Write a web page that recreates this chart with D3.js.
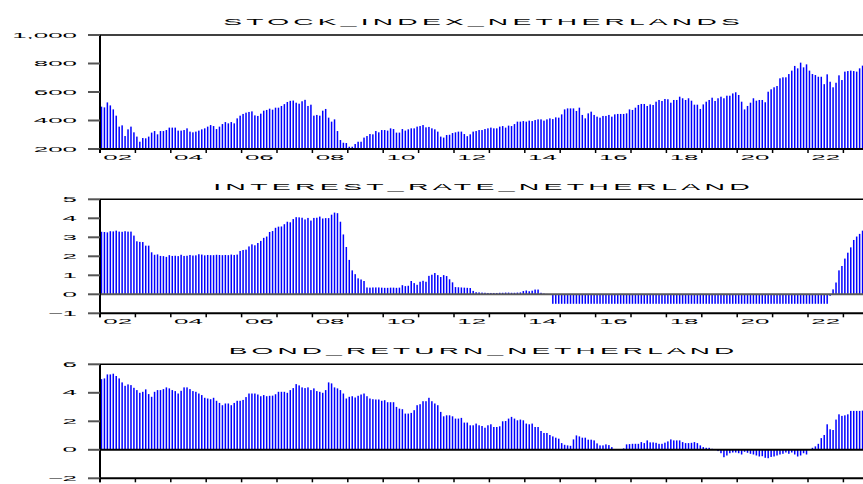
<!DOCTYPE html>
<html>
<head>
<meta charset="utf-8">
<script src="https://cdn.jsdelivr.net/npm/d3@7"></script>
<style>
  body { margin: 0; background: #fff; }
  svg { display: block; }
</style>
</head>
<body>
<div id="chart"></div>
<script>
// monthly data, 2002M01 .. 2023M07
const startYear = 2002;

const stockIndex = [
  497, 492, 527, 506, 478, 434, 357, 366, 291, 338, 357, 317, // 2002
  287, 251, 277, 275, 287, 315, 326, 303, 326, 326, 333, 350, // 2003
  350, 350, 329, 329, 333, 345, 322, 317, 322, 329, 338, 345, // 2004
  357, 368, 361, 340, 357, 375, 389, 380, 389, 380, 415, 434, // 2005
  446, 455, 460, 464, 436, 432, 448, 469, 474, 483, 476, 490, // 2006
  490, 502, 515, 530, 538, 540, 525, 518, 535, 545, 502, 511, // 2007
  434, 439, 434, 469, 481, 420, 392, 408, 326, 263, 244, 242, // 2008
  216, 216, 235, 251, 251, 280, 291, 305, 303, 326, 317, 333, // 2009
  333, 329, 345, 340, 315, 315, 340, 329, 338, 345, 345, 357, // 2010
  361, 368, 352, 355, 345, 338, 322, 287, 280, 298, 300, 312, // 2011
  317, 322, 322, 305, 290, 303, 322, 326, 333, 333, 340, 345, // 2012
  350, 345, 345, 357, 361, 350, 364, 361, 375, 392, 392, 396, // 2013
  392, 399, 396, 403, 408, 408, 399, 408, 415, 410, 422, 420, // 2014
  443, 478, 485, 485, 485, 467, 490, 439, 415, 450, 462, 439, // 2015
  427, 420, 432, 432, 439, 427, 443, 446, 446, 446, 450, 478, // 2016
  474, 490, 509, 516, 516, 502, 513, 509, 532, 544, 537, 551, // 2017
  549, 525, 544, 544, 567, 556, 544, 556, 539, 511, 511, 481, // 2018
  513, 532, 544, 560, 537, 556, 567, 556, 574, 574, 590, 598, // 2019
  579, 532, 478, 502, 525, 556, 539, 544, 544, 528, 602, 619, // 2020
  633, 642, 696, 703, 703, 726, 750, 783, 766, 806, 773, 794, // 2021
  750, 726, 719, 707, 707, 655, 724, 672, 633, 665, 717, 684, // 2022
  743, 747, 750, 747, 743, 766, 785                            // 2023
];

const interestRate = [
  3.29, 3.28, 3.26, 3.32, 3.31, 3.35, 3.30, 3.29, 3.32, 3.30, 3.30, 3.09, // 2002
  2.79, 2.76, 2.75, 2.56, 2.56, 2.21, 2.08, 2.10, 2.02, 2.01, 1.97, 2.06, // 2003
  2.02, 2.03, 2.01, 2.08, 2.02, 2.03, 2.07, 2.04, 2.05, 2.11, 2.09, 2.05, // 2004
  2.07, 2.06, 2.06, 2.08, 2.07, 2.06, 2.07, 2.06, 2.09, 2.07, 2.09, 2.28, // 2005
  2.33, 2.35, 2.52, 2.63, 2.58, 2.70, 2.81, 2.97, 3.04, 3.28, 3.33, 3.50, // 2006
  3.56, 3.57, 3.69, 3.82, 3.79, 3.96, 4.06, 4.05, 4.03, 3.94, 4.02, 3.88, // 2007
  4.02, 4.03, 4.09, 3.99, 4.01, 4.01, 4.19, 4.30, 4.27, 3.82, 3.15, 2.49, // 2008
  1.81, 1.26, 1.06, 0.84, 0.78, 0.70, 0.36, 0.35, 0.36, 0.36, 0.36, 0.35, // 2009
  0.34, 0.34, 0.35, 0.35, 0.34, 0.35, 0.48, 0.43, 0.45, 0.70, 0.59, 0.50, // 2010
  0.66, 0.71, 0.66, 0.97, 1.03, 1.12, 1.01, 0.91, 1.01, 0.96, 0.79, 0.63, // 2011
  0.38, 0.37, 0.36, 0.35, 0.34, 0.33, 0.18, 0.11, 0.10, 0.09, 0.08, 0.07, // 2012
  0.07, 0.07, 0.07, 0.08, 0.08, 0.09, 0.09, 0.08, 0.08, 0.09, 0.10, 0.17, // 2013
  0.20, 0.16, 0.19, 0.25, 0.25, 0.08, 0.04, 0.02, 0.01, -0.5, -0.5, -0.5, // 2014
  -0.5, -0.5, -0.5, -0.5, -0.5, -0.5, -0.5, -0.5, -0.5, -0.5, -0.5, -0.5, // 2015
  -0.5, -0.5, -0.5, -0.5, -0.5, -0.5, -0.5, -0.5, -0.5, -0.5, -0.5, -0.5, // 2016
  -0.5, -0.5, -0.5, -0.5, -0.5, -0.5, -0.5, -0.5, -0.5, -0.5, -0.5, -0.5, // 2017
  -0.5, -0.5, -0.5, -0.5, -0.5, -0.5, -0.5, -0.5, -0.5, -0.5, -0.5, -0.5, // 2018
  -0.5, -0.5, -0.5, -0.5, -0.5, -0.5, -0.5, -0.5, -0.5, -0.5, -0.5, -0.5, // 2019
  -0.5, -0.5, -0.5, -0.5, -0.5, -0.5, -0.5, -0.5, -0.5, -0.5, -0.5, -0.5, // 2020
  -0.5, -0.5, -0.5, -0.5, -0.5, -0.5, -0.5, -0.5, -0.5, -0.5, -0.5, -0.5, // 2021
  -0.5, -0.5, -0.5, -0.5, -0.5, -0.5, -0.5, -0.08, 0.26, 0.62, 1.26, 1.49, // 2022
  1.88, 2.19, 2.47, 2.86, 3.04, 3.18, 3.35                                 // 2023
];

const bondReturn = [
  4.96, 5.01, 5.29, 5.29, 5.34, 5.18, 5.01, 4.73, 4.49, 4.59, 4.54, 4.35, // 2002
  4.19, 4.00, 4.07, 4.24, 3.91, 3.72, 4.07, 4.19, 4.19, 4.26, 4.38, 4.31, // 2003
  4.19, 4.12, 3.95, 4.14, 4.38, 4.38, 4.26, 4.12, 4.07, 3.95, 3.84, 3.65, // 2004
  3.60, 3.55, 3.65, 3.44, 3.29, 3.13, 3.25, 3.25, 3.13, 3.29, 3.44, 3.44, // 2005
  3.50, 3.70, 3.95, 3.95, 3.95, 3.88, 3.76, 3.84, 3.76, 3.79, 3.80, 3.90, // 2006
  4.07, 4.07, 4.07, 4.00, 4.19, 4.33, 4.61, 4.52, 4.38, 4.33, 4.38, 4.19, // 2007
  4.31, 4.12, 4.07, 4.00, 4.19, 4.73, 4.66, 4.38, 4.31, 4.19, 3.95, 3.60, // 2008
  3.72, 3.76, 3.67, 3.79, 3.88, 3.95, 3.76, 3.60, 3.55, 3.53, 3.53, 3.44, // 2009
  3.48, 3.34, 3.34, 3.34, 3.01, 2.89, 2.85, 2.54, 2.54, 2.59, 2.78, 3.13, // 2010
  3.20, 3.41, 3.41, 3.65, 3.41, 3.25, 3.13, 2.66, 2.35, 2.42, 2.42, 2.35, // 2011
  2.19, 2.19, 2.24, 1.91, 1.91, 1.72, 1.72, 1.84, 1.72, 1.67, 1.55, 1.72, // 2012
  1.79, 1.60, 1.60, 1.65, 2.00, 2.02, 2.19, 2.31, 2.19, 2.07, 2.12, 2.07, // 2013
  1.84, 1.79, 1.84, 1.60, 1.60, 1.32, 1.18, 1.18, 1.04, 0.94, 0.85, 0.78, // 2014
  0.47, 0.35, 0.31, 0.28, 0.73, 1.01, 0.94, 0.85, 0.85, 0.71, 0.71, 0.66, // 2015
  0.45, 0.31, 0.31, 0.38, 0.33, 0.19, 0.05, 0.03, 0.03, 0.10, 0.38, 0.40, // 2016
  0.42, 0.42, 0.42, 0.54, 0.47, 0.66, 0.52, 0.52, 0.49, 0.42, 0.42, 0.50, // 2017
  0.59, 0.73, 0.66, 0.66, 0.66, 0.54, 0.47, 0.47, 0.49, 0.54, 0.47, 0.31, // 2018
  0.19, 0.14, 0.14, 0.07, 0.02, -0.09, -0.24, -0.52, -0.40, -0.24, -0.19, -0.19, // 2019
  -0.24, -0.33, -0.14, -0.21, -0.28, -0.33, -0.40, -0.47, -0.45, -0.56, -0.59, -0.50, // 2020
  -0.47, -0.40, -0.33, -0.28, -0.19, -0.28, -0.19, -0.33, -0.47, -0.40, -0.24, -0.33, // 2021
  0.02, 0.14, 0.24, 0.42, 0.82, 1.04, 1.79, 1.44, 1.39, 2.12, 2.49, 2.38, // 2022
  2.42, 2.49, 2.73, 2.73, 2.73, 2.73, 2.75                                 // 2023
];

const titles = ['STOCK_INDEX_NETHERLANDS', 'INTEREST_RATE_NETHERLAND', 'BOND_RETURN_NETHERLAND'];
const stockTicks = [200, 400, 600, 800, 1000];
const rateTicks = [-1, 0, 1, 2, 3, 4, 5];
const bondTicks = [-2, 0, 2, 4, 6];
const labelYears = [2002, 2004, 2006, 2008, 2010, 2012, 2014, 2016, 2018, 2020, 2022];

const W = 863, H = 484;
const plotLeft = 100, yearWidth = 35.4, plotH = 114;

// the bottom panel's year labels fall below the window, so they are left off
const panels = [
  { title: titles[0], values: stockIndex, ticks: stockTicks, domain: [200, 1000], base: 200,
    top: 35, titleY: 25, titleW: 520, zero: null, yearLabels: true },
  { title: titles[1], values: interestRate, ticks: rateTicks, domain: [-1, 5], base: 0,
    top: 199.3, titleY: 189.5, titleW: 540, zero: '#5a5a5a', yearLabels: true },
  { title: titles[2], values: bondReturn, ticks: bondTicks, domain: [-2, 6], base: 0,
    top: 364.3, titleY: 353.5, titleW: 509, zero: '#000', yearLabels: false }
];

const svg = d3.select('#chart').append('svg')
  .attr('width', W)
  .attr('height', H)
  .style('font-family', '"Liberation Sans", Arial, sans-serif');

const x = d3.scaleLinear()
  .domain([startYear, startYear + 22])
  .range([plotLeft, plotLeft + 22 * yearWidth]);

const fmt = d3.format(',');

// text drawn wide and flat, like the original
function wideText(parent, str, tx, ty, size, sx, anchor) {
  return parent.append('g')
    .attr('transform', `translate(${tx},${ty}) scale(${sx},1)`)
    .append('text')
    .attr('text-anchor', anchor)
    .attr('font-size', size)
    .attr('fill', '#000')
    .text(str);
}

panels.forEach(p => {
  const bottom = p.top + plotH;
  const y = d3.scaleLinear().domain(p.domain).range([bottom, p.top]);
  const g = svg.append('g');

  // --- spikes ---
  g.selectAll('rect.bar')
    .data(p.values)
    .enter().append('rect')
    .attr('class', 'bar')
    .attr('x', (d, i) => x(startYear + (i + 0.5) / 12) - 0.75)
    .attr('width', 1.5)
    .attr('y', d => Math.min(y(d), y(p.base)))
    .attr('height', d => Math.abs(y(d) - y(p.base)))
    .attr('fill', '#0000ff');

  // --- zero line ---
  if (p.zero) {
    g.append('line')
      .attr('x1', plotLeft).attr('x2', W)
      .attr('y1', y(0)).attr('y2', y(0))
      .attr('stroke', p.zero)
      .attr('stroke-width', 2);
  }

  // --- frame ---
  g.append('line')
    .attr('x1', plotLeft).attr('x2', W)
    .attr('y1', p.top).attr('y2', p.top)
    .attr('stroke', '#000').attr('stroke-width', 1.5);
  g.append('line')
    .attr('x1', plotLeft).attr('x2', W)
    .attr('y1', bottom).attr('y2', bottom)
    .attr('stroke', '#000').attr('stroke-width', 2);
  g.append('line')
    .attr('x1', plotLeft).attr('x2', plotLeft)
    .attr('y1', p.top).attr('y2', bottom + 4)
    .attr('stroke', '#000').attr('stroke-width', 2);

  // --- y ticks ---
  p.ticks.forEach(t => {
    g.append('line')
      .attr('x1', 88).attr('x2', plotLeft)
      .attr('y1', y(t)).attr('y2', y(t))
      .attr('stroke', '#555').attr('stroke-width', 2);
    wideText(g, fmt(t), 77, y(t) + 2.6, 7, 3.7, 'end');
  });

  // --- x ticks (every year) ---
  d3.range(startYear, startYear + 23).forEach(yr => {
    g.append('line')
      .attr('x1', x(yr)).attr('x2', x(yr))
      .attr('y1', bottom).attr('y2', bottom + 4)
      .attr('stroke', '#000').attr('stroke-width', 1.5);
  });
  if (p.yearLabels) {
    labelYears.forEach(yr => {
      wideText(g, String(yr).slice(2), x(yr + 0.5), bottom + 11, 7, 3.7, 'middle');
    });
  }

  // --- title ---
  const tg = svg.append('g');
  const tt = tg.append('text')
    .attr('text-anchor', 'middle')
    .attr('font-size', 9.4)
    .attr('letter-spacing', 1.4)
    .attr('fill', '#000')
    .text(p.title);
  const natural = tt.node().getComputedTextLength();
  const sx = p.titleW / natural;
  tg.attr('transform', `translate(${(plotLeft + W) / 2 + 0.7 * sx},${p.titleY}) scale(${sx},1)`);
});
</script>
</body>
</html>
